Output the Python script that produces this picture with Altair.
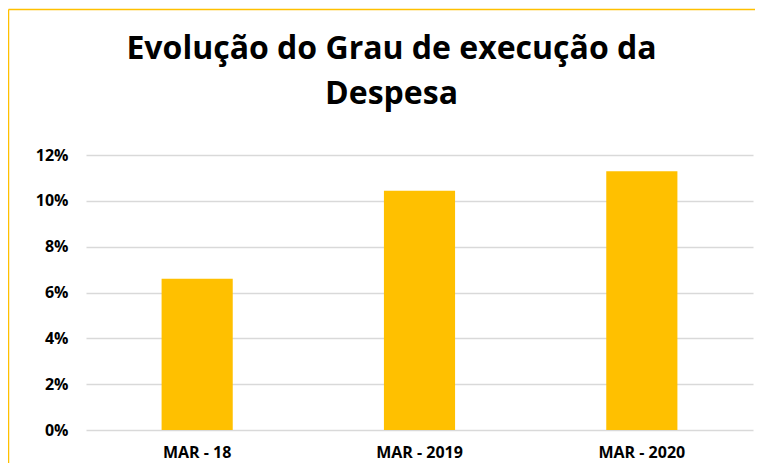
import altair as alt
import pandas as pd

categories = ["MAR - 18", "MAR - 2019", "MAR - 2020"]
values = [0.066, 0.1044, 0.1129]
y_ticks = [0, 0.02, 0.04, 0.06, 0.08, 0.10, 0.12]
title_lines = ["Evolução do Grau de execução da", "Despesa"]

df = pd.DataFrame({"periodo": categories, "grau": values})

FONT = "Open Sans"
GOLD = "#FFC000"
W, H = 667, 275

bars = alt.Chart(df).mark_bar(color=GOLD).encode(
    x=alt.X(
        "periodo:N", sort=categories, title=None,
        scale=alt.Scale(paddingInner=0.68, paddingOuter=0.34),
        axis=alt.Axis(labelAngle=0, labelFont=FONT, labelFontWeight="bold",
                      labelFontSize=16, labelColor="#000000", labelPadding=14,
                      ticks=False, tickSize=0, domain=False, grid=False),
    ),
    y=alt.Y(
        "grau:Q", title=None, scale=alt.Scale(domain=[0, 0.12], nice=False),
        axis=alt.Axis(values=y_ticks, format=".0%", labelFont=FONT,
                      labelFontWeight="bold", labelFontSize=16,
                      labelColor="#000000", labelPadding=18, ticks=False,
                      tickSize=0, domain=False, gridColor="#d9d9d9",
                      gridWidth=1.5),
    ),
)

frame = alt.Data(values=[{"k": 1}])
top_rule = alt.Chart(frame).mark_rule(color=GOLD, strokeWidth=1.5, clip=False).encode(
    x=alt.value(-77.5), x2=alt.value(690), y=alt.value(-145.5)
)
left_rule = alt.Chart(frame).mark_rule(color=GOLD, strokeWidth=1.5, clip=False).encode(
    x=alt.value(-77.5), y=alt.value(-145.5), y2=alt.value(330)
)

chart = alt.layer(bars, top_rule, left_rule).properties(
    width=W, height=H,
    autosize=alt.AutoSizeParams(type="none"),
    padding={"left": 78, "top": 147, "right": 2, "bottom": 33},
    background="white",
    title=alt.TitleParams(
        text=title_lines, font=FONT, fontSize=32, fontWeight="bold",
        color="#000000", anchor="middle", dx=-28, lineHeight=45, offset=0,
        dy=102,
    ),
).configure_view(stroke=None)

chart.save("out.html", embed_options={"renderer": "svg", "actions": False})
